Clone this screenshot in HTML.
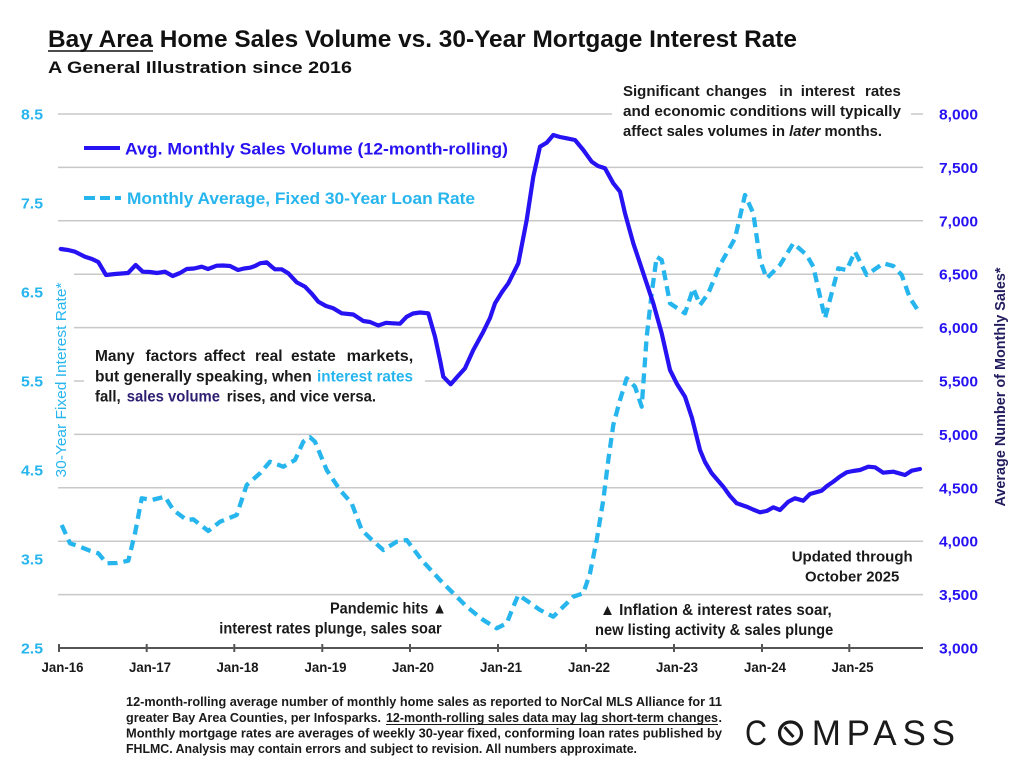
<!DOCTYPE html>
<html><head><meta charset="utf-8"><style>
html,body{margin:0;padding:0;background:#fff;}
svg{display:block;}
text{font-family:"Liberation Sans",Arial,sans-serif;}
</style></head><body>
<svg width="1024" height="768" viewBox="0 0 1024 768" xmlns="http://www.w3.org/2000/svg">
<rect width="1024" height="768" fill="#fff"/>

<!-- Title -->
<text x="48" y="47" font-size="24.5" font-weight="bold" fill="#111" textLength="749" lengthAdjust="spacingAndGlyphs">Bay Area Home Sales Volume vs. 30-Year Mortgage Interest Rate</text>
<line x1="48" y1="51" x2="153" y2="51" stroke="#111" stroke-width="1.6"/>
<text x="48" y="73" font-size="17" font-weight="bold" fill="#111" textLength="304" lengthAdjust="spacingAndGlyphs">A General Illustration since 2016</text>

<!-- gridlines -->
<g stroke="#c8c8c8" stroke-width="1.5">
<line x1="58" y1="114" x2="923" y2="114"/>
<line x1="58" y1="167.4" x2="923" y2="167.4"/>
<line x1="58" y1="220.8" x2="923" y2="220.8"/>
<line x1="58" y1="274.2" x2="923" y2="274.2"/>
<line x1="58" y1="327.6" x2="923" y2="327.6"/>
<line x1="58" y1="381" x2="923" y2="381"/>
<line x1="58" y1="434.4" x2="923" y2="434.4"/>
<line x1="58" y1="487.8" x2="923" y2="487.8"/>
<line x1="58" y1="541.2" x2="923" y2="541.2"/>
<line x1="58" y1="594.6" x2="923" y2="594.6"/>
</g>

<!-- white boxes covering gridlines -->
<rect x="612" y="78" width="299" height="64" fill="#fff"/>
<rect x="84" y="342" width="341" height="68" fill="#fff"/>
<rect x="53" y="262" width="21" height="220" fill="#fff"/>

<!-- x axis -->
<line x1="58" y1="648" x2="923" y2="648" stroke="#555" stroke-width="2"/>
<g stroke="#555" stroke-width="2">
<line x1="59" y1="644" x2="59" y2="652"/>
<line x1="146.7" y1="644" x2="146.7" y2="652"/>
<line x1="234.3" y1="644" x2="234.3" y2="652"/>
<line x1="322.3" y1="644" x2="322.3" y2="652"/>
<line x1="410" y1="644" x2="410" y2="652"/>
<line x1="498" y1="644" x2="498" y2="652"/>
<line x1="586" y1="644" x2="586" y2="652"/>
<line x1="674" y1="644" x2="674" y2="652"/>
<line x1="762" y1="644" x2="762" y2="652"/>
<line x1="849.3" y1="644" x2="849.3" y2="652"/>
</g>
<g font-size="14" font-weight="bold" fill="#1a1a1a" text-anchor="middle">
<text x="62.5" y="672" textLength="42" lengthAdjust="spacingAndGlyphs">Jan-16</text>
<text x="150" y="672" textLength="42" lengthAdjust="spacingAndGlyphs">Jan-17</text>
<text x="237.5" y="672" textLength="42" lengthAdjust="spacingAndGlyphs">Jan-18</text>
<text x="325.5" y="672" textLength="42" lengthAdjust="spacingAndGlyphs">Jan-19</text>
<text x="413" y="672" textLength="42" lengthAdjust="spacingAndGlyphs">Jan-20</text>
<text x="501" y="672" textLength="42" lengthAdjust="spacingAndGlyphs">Jan-21</text>
<text x="589" y="672" textLength="42" lengthAdjust="spacingAndGlyphs">Jan-22</text>
<text x="677" y="672" textLength="42" lengthAdjust="spacingAndGlyphs">Jan-23</text>
<text x="765" y="672" textLength="42" lengthAdjust="spacingAndGlyphs">Jan-24</text>
<text x="852.5" y="672" textLength="42" lengthAdjust="spacingAndGlyphs">Jan-25</text>
</g>

<!-- left tick labels -->
<g font-size="15" font-weight="bold" fill="#27b5ee" text-anchor="end">
<text x="43" y="119.5" textLength="22" lengthAdjust="spacingAndGlyphs">8.5</text>
<text x="43" y="208.5" textLength="22" lengthAdjust="spacingAndGlyphs">7.5</text>
<text x="43" y="297.5" textLength="22" lengthAdjust="spacingAndGlyphs">6.5</text>
<text x="43" y="386.5" textLength="22" lengthAdjust="spacingAndGlyphs">5.5</text>
<text x="43" y="475.5" textLength="22" lengthAdjust="spacingAndGlyphs">4.5</text>
<text x="43" y="564.5" textLength="22" lengthAdjust="spacingAndGlyphs">3.5</text>
<text x="43" y="653.5" textLength="22" lengthAdjust="spacingAndGlyphs">2.5</text>
</g>

<!-- right tick labels -->
<g font-size="15" font-weight="bold" fill="#2612f2">
<text x="939" y="119.5" textLength="39" lengthAdjust="spacingAndGlyphs">8,000</text>
<text x="939" y="172.9" textLength="39" lengthAdjust="spacingAndGlyphs">7,500</text>
<text x="939" y="226.3" textLength="39" lengthAdjust="spacingAndGlyphs">7,000</text>
<text x="939" y="279.7" textLength="39" lengthAdjust="spacingAndGlyphs">6,500</text>
<text x="939" y="333.1" textLength="39" lengthAdjust="spacingAndGlyphs">6,000</text>
<text x="939" y="386.5" textLength="39" lengthAdjust="spacingAndGlyphs">5,500</text>
<text x="939" y="439.9" textLength="39" lengthAdjust="spacingAndGlyphs">5,000</text>
<text x="939" y="493.3" textLength="39" lengthAdjust="spacingAndGlyphs">4,500</text>
<text x="939" y="546.7" textLength="39" lengthAdjust="spacingAndGlyphs">4,000</text>
<text x="939" y="600.1" textLength="39" lengthAdjust="spacingAndGlyphs">3,500</text>
<text x="939" y="653.5" textLength="39" lengthAdjust="spacingAndGlyphs">3,000</text>
</g>

<!-- axis titles -->
<text transform="translate(66,380) rotate(-90)" text-anchor="middle" font-size="15" fill="#27b5ee" textLength="195" lengthAdjust="spacingAndGlyphs">30-Year Fixed Interest Rate*</text>
<text transform="translate(1005,387) rotate(-90)" text-anchor="middle" font-size="15" font-weight="bold" fill="#221c5e" textLength="239" lengthAdjust="spacingAndGlyphs">Average Number of Monthly Sales*</text>

<!-- legend -->
<line x1="84" y1="148" x2="120" y2="148" stroke="#2612f2" stroke-width="4"/>
<text x="125" y="154.5" font-size="17" font-weight="bold" fill="#2612f2" textLength="383" lengthAdjust="spacingAndGlyphs">Avg. Monthly Sales Volume (12-month-rolling)</text>
<g stroke="#27b5ee" stroke-width="4">
<line x1="84" y1="198" x2="95" y2="198"/>
<line x1="100" y1="198" x2="110" y2="198"/>
<line x1="115" y1="198" x2="121" y2="198"/>
</g>
<text x="127" y="204" font-size="17" font-weight="bold" fill="#27b5ee" textLength="348" lengthAdjust="spacingAndGlyphs">Monthly Average, Fixed 30-Year Loan Rate</text>

<!-- top right annotation -->
<g font-size="15" font-weight="bold" fill="#1a1a1a">
<text x="623" y="96">Significant</text>
<text x="706" y="96">changes</text>
<text x="779.3" y="96">in</text>
<text x="800.7" y="96">interest</text>
<text x="865" y="96">rates</text>
<text x="623" y="116" textLength="278" lengthAdjust="spacingAndGlyphs">and economic conditions will typically</text>
<text x="623" y="136" textLength="259" lengthAdjust="spacingAndGlyphs">affect sales volumes in <tspan font-style="italic">later</tspan> months.</text>
</g>

<!-- middle annotation -->
<g font-size="15.5" font-weight="bold" fill="#1a1a1a">
<text x="95" y="361">Many</text>
<text x="145.5" y="361">factors</text>
<text x="204" y="361">affect</text>
<text x="255" y="361">real</text>
<text x="291" y="361">estate</text>
<text x="346.7" y="361" textLength="66.6" lengthAdjust="spacingAndGlyphs">markets,</text>
<text x="95" y="381.7" textLength="216.7" lengthAdjust="spacingAndGlyphs">but generally speaking, when</text>
<text x="317" y="381.7" textLength="96" lengthAdjust="spacingAndGlyphs" fill="#27b5ee">interest rates</text>
<text x="95" y="401.7" textLength="25.7" lengthAdjust="spacingAndGlyphs">fall,</text>
<text x="126.7" y="401.7" textLength="93.3" lengthAdjust="spacingAndGlyphs" fill="#2e1f73">sales volume</text>
<text x="226.7" y="401.7" textLength="149.3" lengthAdjust="spacingAndGlyphs">rises, and vice versa.</text>
</g>

<!-- updated -->
<g font-size="15" font-weight="bold" fill="#1a1a1a">
<text x="791.7" y="561.7" textLength="121" lengthAdjust="spacingAndGlyphs">Updated through</text>
<text x="805" y="581.7" textLength="94.3" lengthAdjust="spacingAndGlyphs">October 2025</text>
</g>

<!-- pandemic / inflation -->
<g font-size="15.5" font-weight="bold" fill="#1a1a1a">
<text x="330" y="613.3" textLength="116.7" lengthAdjust="spacingAndGlyphs">Pandemic hits ▲</text>
<text x="219.3" y="633.3" textLength="222.4" lengthAdjust="spacingAndGlyphs">interest rates plunge, sales soar</text>
<text x="600" y="615" textLength="231.7" lengthAdjust="spacingAndGlyphs">▲ Inflation &amp; interest rates soar,</text>
<text x="595" y="635" textLength="238.3" lengthAdjust="spacingAndGlyphs">new listing activity &amp; sales plunge</text>
</g>

<!-- series: rate (dashed) -->
<polyline fill="none" stroke="#27b5ee" stroke-width="4.3" stroke-dasharray="10 6" stroke-linejoin="round"
points="61.7,525 70,543.3 80,546.7 90,550.7 98.3,553.3 106.7,563.3 117,563 128.3,560.7 135,533.3 141.7,498.3 151.7,500 165,496.7 173.3,510 186.7,520 193.3,519.3 208.3,531 220,521.7 236.7,515 246.7,485 260,473.3 270,461.7 283.3,466.7 295,460 303.3,441.7 310,437.3 315,441.7 326.7,470 340,490 351.7,503.3 361.7,530 372,540 383.3,550 396.7,541.7 406.7,540 421.7,560 440,580 453.3,593.3 466.7,606.7 483.3,620 496.7,628.3 506.7,623.3 513.3,606.7 518.3,595 528.3,601.7 540,610 553.3,616.7 563.3,606.7 573.3,596.7 583.3,593.3 590,573.3 596.7,540 603.3,500 608.3,460 613.3,425 620,400 626.7,378.3 635,386.7 641.7,406.7 646.7,336.7 651.7,293.3 656.7,256.7 661.7,260 670,303.3 685,313.3 693.3,288.3 700,305 708.3,293.3 720,265 735,238.3 745,195 753.3,213.3 760,260 766.7,278.3 780,265 793.3,243.3 806.7,255 813.3,266.7 825,318.3 838.3,268.3 846.7,270 855,251.7 866.7,275 883.3,263.3 893.3,266 901.7,275 910,298.3 920,313.3"/>

<!-- series: sales (solid) -->
<polyline fill="none" stroke="#2612f2" stroke-width="4.2" stroke-linejoin="round" stroke-linecap="round"
points="60.7,249 68,250 75,251.7 85,256.7 92,259 98.3,262 106,275 115,274 128,273 135.7,265 142.7,271.7 150,272 157,273 165,271.7 172.7,276 180,273 186.7,269 194,268.5 201.7,266.7 208,269 216.7,265.7 223,265.5 230,266 238,270 244,268.5 250,267.7 255,266 260,263.3 266.7,262.3 272,267 275,269.3 281.7,269.3 288.3,273.3 296.7,282.3 305,286.7 312,294 318.3,301.7 326,306 333.3,308.3 341.7,313.3 353.3,314.5 363.3,321 370,322 378.3,325.5 386,322.8 393,323.3 400,323.7 406.7,316.7 413,313.5 420,312.5 428.3,313.3 435,336.7 440,360 443.3,376.7 450.7,384.3 458,376 465,368.3 473.3,350 483.3,331.7 490,318 495,303.3 502,292 508.3,283.3 518.3,263.3 526.7,220 533.3,176.7 540,146.7 546.7,142.7 553.3,135 560,137 566.7,138.3 575,140 583.3,150 591.7,161.7 598,166 605,168.3 613.3,183.3 620,191.7 625,213.3 633.3,243.3 643.3,273.3 653.3,303.3 661.7,333.3 670,370 677,384 685,396.7 692,418 700,450 705,462 711.7,473.3 723.3,486.7 730,496 736.7,503.3 746.7,506.7 753,509.5 760,512.3 766.7,511 773.3,507.3 780,510 788.3,501.7 795,498.3 803.3,500.7 810,494 821.7,490.7 827,486 833.3,481.7 840,476.5 846.7,472.3 853,471 860,470 868.3,466.7 875,467.3 883.3,472.7 893.3,471.7 905,475 911.7,470.7 920,469"/>

<!-- footnote -->
<g font-size="12.5" font-weight="bold" fill="#1a1a1a">
<text x="126" y="706" textLength="596" lengthAdjust="spacingAndGlyphs">12-month-rolling average number of monthly home sales as reported to NorCal MLS Alliance for 11</text>
<text x="126" y="722" textLength="255" lengthAdjust="spacingAndGlyphs">greater Bay Area Counties, per Infosparks.</text>
<text x="386" y="722" textLength="332" lengthAdjust="spacingAndGlyphs">12-month-rolling sales data may lag short-term changes</text>
<text x="718.5" y="722">.</text>
<text x="126" y="737.5" textLength="596" lengthAdjust="spacingAndGlyphs">Monthly mortgage rates are averages of weekly 30-year fixed, conforming loan rates published by</text>
<text x="126" y="753" textLength="511" lengthAdjust="spacingAndGlyphs">FHLMC. Analysis may contain errors and subject to revision. All numbers  approximate.</text>
</g>
<line x1="386" y1="724.5" x2="718" y2="724.5" stroke="#1a1a1a" stroke-width="1.1"/>

<!-- COMPASS logo -->
<g fill="#1a1a1a">
<text x="745" y="745" font-size="35" textLength="22" lengthAdjust="spacingAndGlyphs">C</text>
<text x="811.7" y="745" font-size="35" textLength="143.3" lengthAdjust="spacing">MPASS</text>
</g>
<circle cx="790.5" cy="733" r="11" fill="none" stroke="#1a1a1a" stroke-width="3.2"/>
<line x1="784.5" y1="727" x2="793.5" y2="737" stroke="#1a1a1a" stroke-width="3"/>
</svg>
</body></html>
